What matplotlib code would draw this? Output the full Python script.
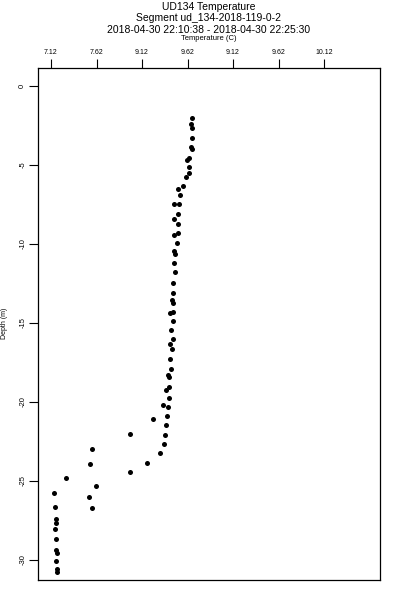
import matplotlib
matplotlib.use("Agg")
import matplotlib.pyplot as plt

plt.rcParams['font.family'] = ['Liberation Sans', 'DejaVu Sans']

title_lines = ["UD134 Temperature",
               "Segment ud_134-2018-119-0-2",
               "2018-04-30 22:10:38 - 2018-04-30 22:25:30"]
x_label = "Temperature (C)"
y_label = "Depth (m)"

x_tick_values = [7.12, 7.62, 8.12, 8.62, 9.12, 9.62, 10.12]
x_tick_labels = ["7.12", "7.62", "9.12", "9.62", "9.12", "9.62", "10.12"]
y_tick_values = [0, -5, -10, -15, -20, -25, -30]

temperature = [8.666, 8.658, 8.669, 8.666, 8.655, 8.669, 8.636, 8.611, 8.633, 8.640,
               8.604, 8.567, 8.519, 8.538, 8.475, 8.527, 8.516, 8.468, 8.512, 8.468,
               8.519, 8.501, 8.472, 8.486, 8.475, 8.483, 8.457, 8.461, 8.450, 8.461,
               8.431, 8.464, 8.464, 8.439, 8.464, 8.424, 8.446, 8.428, 8.435, 8.402,
               8.417, 8.384, 8.417, 8.413, 8.354, 8.402, 8.244, 8.395, 8.387, 7.985,
               8.376, 8.358, 8.318, 8.172, 7.567, 7.549, 7.988, 7.285, 7.611, 7.153,
               7.538, 7.574, 7.161, 7.178, 7.172, 7.164, 7.175, 7.172, 7.183, 7.175,
               7.183, 7.183]
depth = [-2.01, -2.41, -2.68, -3.31, -3.84, -3.99, -4.58, -4.68, -5.11, -5.53,
         -5.74, -6.31, -6.54, -6.90, -7.47, -7.49, -8.10, -8.42, -8.73, -9.41,
         -9.32, -9.96, -10.42, -10.63, -11.22, -11.77, -12.47, -13.12, -13.54, -13.72,
         -14.39, -14.32, -14.89, -15.44, -16.03, -16.35, -16.66, -17.30, -17.89, -18.29,
         -18.44, -19.24, -19.07, -19.73, -20.17, -20.34, -21.09, -20.89, -21.47, -22.03,
         -22.07, -22.66, -23.23, -23.84, -22.99, -23.91, -24.45, -24.83, -25.34, -25.76,
         -26.01, -26.69, -26.66, -27.42, -27.64, -28.06, -28.65, -29.37, -29.54, -30.06,
         -30.55, -30.76]

fig = plt.figure(figsize=(4, 6), dpi=100)
ax = fig.add_axes([0.095, 0.0333, 0.855, 0.8534])
ax.scatter(temperature, depth, s=13, color='black', linewidths=0)

ax.set_xlim(6.977, 10.735)
ax.set_ylim(-31.27, 1.14)

ax.xaxis.set_ticks_position('top')
ax.xaxis.set_label_position('top')
ax.set_xticks(x_tick_values)
ax.set_xticklabels(x_tick_labels, fontsize=5)
ax.set_yticks(y_tick_values)
ax.set_yticklabels([str(v) for v in y_tick_values], fontsize=5.5, rotation=90, va='center')
ax.tick_params(axis='both', length=6.5, width=0.8, color='black', pad=2)
for sp in ax.spines.values():
    sp.set_linewidth(0.9)

fig.text(0.5225, 1 - 7 / 600, title_lines[0], ha='center', va='center', fontsize=7.5)
fig.text(0.5225, 1 - 18 / 600, title_lines[1], ha='center', va='center', fontsize=7.5)
fig.text(0.5225, 1 - 30 / 600, title_lines[2], ha='center', va='center', fontsize=7.5)
fig.text(0.5225, 1 - 39 / 600, x_label, ha='center', va='center', fontsize=5.5)
fig.text(5 / 400, 1 - 323 / 600, y_label, ha='center', va='center', fontsize=5, rotation=90)

fig.savefig("out.png", dpi=100)
